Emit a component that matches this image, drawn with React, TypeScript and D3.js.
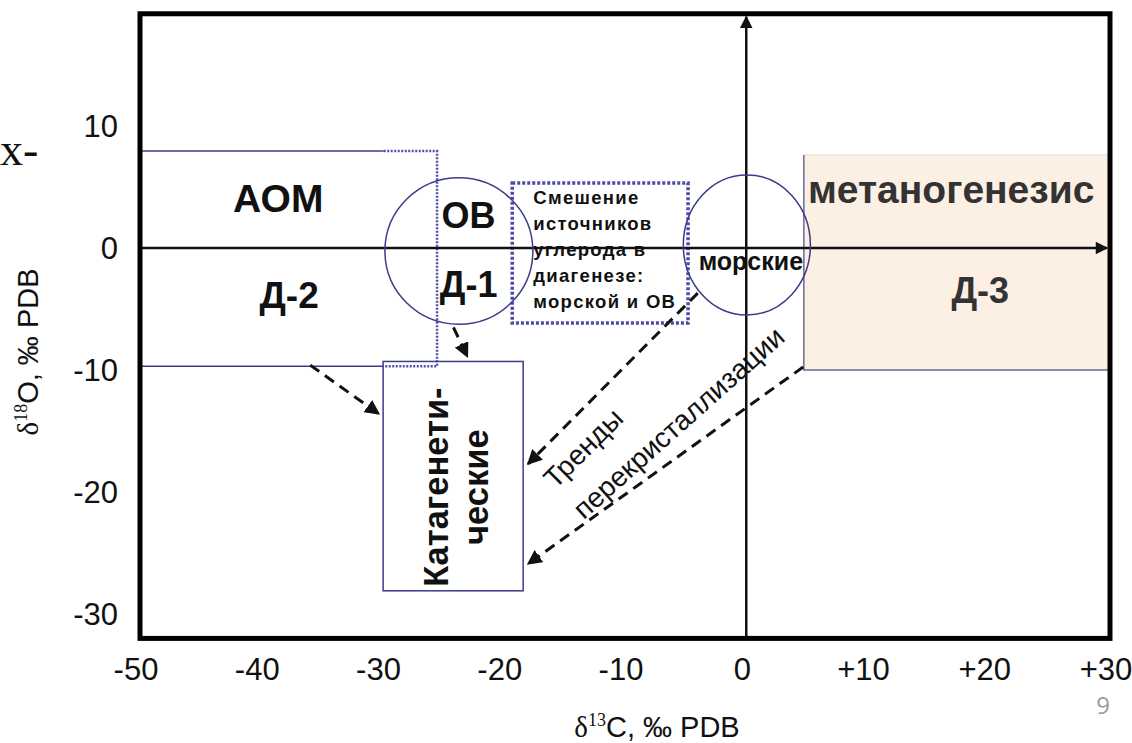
import * as d3 from 'd3';

// axis ticks
const xTicks = [-50, -40, -30, -20, -10, 0, 10, 20, 30];
const xTickLabels = ['-50', '-40', '-30', '-20', '-10', '0', '+10', '+20', '+30'];
const yTicks = [10, 0, -10, -20, -30];
const yTickLabels = ['10', '0', '-10', '-20', '-30'];

// plot frame, in data units
const frameX = [-50, 30];
const frameY = [-32, 19.2];

// АОМ / Д-2 field: solid edges, then dotted corner
const aomTop = 7.95;
const aomBottom = -9.7;
const aomSolidEnd = -29.9;
const aomRight = -25.5;

// ellipses: ОВ and морские
const fields = [
  { key: 'ov', cx: -23.7, cy: -0.25, rx: 6.1, ry: 6.0 },
  { key: 'sea', cx: 0.05, cy: 0.25, rx: 5.24, ry: 5.74 },
];

// boxes [x0, x1, yTop, yBottom]
const mixBox = [-19.3, -4.8, 5.33, -6.15];
const methBox = [4.75, 30, 7.62, -10.0];
const catBox = [-29.95, -18.4, -9.3, -28.1];

// dashed trend arrows [[x0, y0], [x1, y1]]
const arrows = [
  [[-35.96, -9.6], [-30.3, -13.6]],
  [[-24.15, -6.5], [-23.0, -8.9]],
  [[-4.0, -3.7], [-18.0, -17.7]],
  [[4.7, -9.75], [-18.0, -25.9]],
];

// bold labels: text, x, y (baseline), size
const labels = [
  { t: 'АОМ', x: -38.6, y: 2.95, s: 39, c: '#111' },
  { t: 'Д-2', x: -37.7, y: -4.95, s: 37, c: '#111' },
  { t: 'ОВ', x: -22.9, y: 1.65, s: 36, c: '#111' },
  { t: 'Д-1', x: -22.9, y: -4.0, s: 36, c: '#111' },
  { t: 'метаногенезис', x: 16.9, y: 3.7, s: 39, c: '#333' },
  { t: 'Д-3', x: 19.3, y: -4.5, s: 36, c: '#333' },
];

const mixLines = ['Смешение', 'источников', 'углерода в', 'диагенезе:', 'морской и ОВ'];
const catLines = ['Катагенети-', 'ческие'];

const W = 1132;
const H = 743;
const blue = '#3b3b8a';
const font = '"Liberation Sans", Arial, sans-serif';

export default function App() {
  const x = d3.scaleLinear().domain([-50, 30]).range([140, 1110]);
  const y = d3.scaleLinear().domain([-30, 10]).range([614, 126]);

  const fx0 = x(frameX[0]), fx1 = x(frameX[1]);
  const fy0 = y(frameY[1]), fy1 = y(frameY[0]);

  const aomPath = d3.path();
  aomPath.moveTo(x(aomSolidEnd), y(aomTop));
  aomPath.lineTo(x(aomRight), y(aomTop));
  aomPath.lineTo(x(aomRight), y(aomBottom));
  aomPath.lineTo(x(aomSolidEnd), y(aomBottom));

  const box = (b: number[]) => ({
    x: x(b[0]), y: y(b[2]), width: x(b[1]) - x(b[0]), height: y(b[3]) - y(b[2]),
  });
  const mb = box(mixBox);
  const meth = box(methBox);
  const cat = box(catBox);

  const line = d3.line<number[]>().x(d => x(d[0])).y(d => y(d[1]));

  return (
    <svg width={W} height={H} style={{ position: 'absolute', left: 0, top: 0, background: '#fff' }}
      fontFamily={font}>
      <defs>
        <marker id="ah" viewBox="0 0 10 10" refX="9" refY="5" markerWidth="5" markerHeight="5"
          orient="auto" markerUnits="strokeWidth">
          <path d="M0,0 L10,5 L0,10 z" fill="#111" />
        </marker>
        <marker id="axh" viewBox="0 0 10 10" refX="9" refY="5" markerWidth="6" markerHeight="5"
          orient="auto" markerUnits="strokeWidth">
          <path d="M0,0 L10,5 L0,10 z" fill="#111" />
        </marker>
      </defs>

      {/* metanogenesis field */}
      <rect x={meth.x} y={meth.y} width={fx1 - meth.x} height={meth.height} fill="#fcefe3" />
      <line x1={meth.x} y1={meth.y} x2={fx1} y2={meth.y} stroke="#f3e3d6" strokeWidth={1.5} />
      <polyline points={`${meth.x},${meth.y} ${meth.x},${meth.y + meth.height} ${fx1},${meth.y + meth.height}`}
        fill="none" stroke="#6a6a98" strokeWidth={1.5} />

      {/* АОМ field */}
      <line x1={fx0} y1={y(aomTop)} x2={x(aomSolidEnd)} y2={y(aomTop)} stroke={blue} strokeWidth={1.5} />
      <line x1={fx0} y1={y(aomBottom)} x2={x(aomSolidEnd)} y2={y(aomBottom)} stroke={blue} strokeWidth={1.5} />
      <path d={aomPath.toString()} fill="none" stroke="#5050a8" strokeWidth={2.5} strokeDasharray="2 1.5" />

      {/* catagenetic box */}
      <rect {...cat} fill="none" stroke={blue} strokeWidth={1.5} />

      {/* mixing box */}
      <rect {...mb} fill="none" stroke="#4c4ca6" strokeWidth={3.5} strokeDasharray="3 2" />

      {/* axes through zero */}
      <line x1={fx0} y1={y(0)} x2={fx1 - 3} y2={y(0)} stroke="#111" strokeWidth={2.5} markerEnd="url(#axh)" />
      <line x1={x(0)} y1={fy1} x2={x(0)} y2={fy0 + 3} stroke="#111" strokeWidth={2.5} markerEnd="url(#axh)" />

      {fields.map(f => (
        <ellipse key={f.key} cx={x(f.cx)} cy={y(f.cy)} rx={x(f.rx) - x(0)} ry={y(0) - y(f.ry)}
          fill="none" stroke={blue} strokeWidth={1.5} />
      ))}

      {/* arrows */}
      {arrows.map((a, i) => (
        <path key={i} d={line(a) as string} fill="none" stroke="#111" strokeWidth={3}
          strokeDasharray="11 7" markerEnd="url(#ah)" />
      ))}

      {/* frame */}
      <rect x={fx0} y={fy0} width={fx1 - fx0} height={fy1 - fy0} fill="none" stroke="#000" strokeWidth={5} />

      {/* labels */}
      {labels.map(l => (
        <text key={l.t} x={x(l.x)} y={y(l.y)} textAnchor="middle" fontWeight="bold" fontSize={l.s} fill={l.c}>{l.t}</text>
      ))}
      {mixLines.map((t, i) => (
        <text key={t} x={mb.x + 21} y={mb.y + 21 + i * 26} fontWeight="bold" fontSize={18.5}
          letterSpacing={1.3} fill="#111">{t}</text>
      ))}
      <text x={x(fields[1].cx) + 4} y={y(-1.8)} textAnchor="middle" fontWeight="bold" fontSize={25} fill="#111">морские</text>
      {catLines.map((t, i) => (
        <text key={t} transform={`translate(${cat.x + 65 + i * 40},${cat.y + cat.height / 2 + 11}) rotate(-90)`}
          textAnchor="middle" fontWeight="bold" fontSize={34.5} fill="#111">{t}</text>
      ))}
      <text transform="translate(590,455) rotate(-45)" textAnchor="middle" fontSize={28} fill="#111">Тренды</text>
      <text transform="translate(685,430) rotate(-41.7)" textAnchor="middle" fontSize={28} fill="#111">перекристаллизации</text>

      {/* ticks */}
      {xTicks.map((v, i) => (
        <text key={v} x={x(v) - 4} y={680} textAnchor="middle" fontSize={31} fill="#111">{xTickLabels[i]}</text>
      ))}
      {yTicks.map((v, i) => (
        <text key={v} x={118} y={y(v)} dy="0.36em" textAnchor="end" fontSize={31} fill="#111">{yTickLabels[i]}</text>
      ))}

      {/* axis titles */}
      <text x={657} y={737} textAnchor="middle" fontSize={29} fill="#111">
        <tspan fontFamily='"Liberation Serif", serif'>δ</tspan>
        <tspan fontFamily='"Liberation Serif", serif' fontSize={18} dy={-11}>13</tspan>
        <tspan dy={11}>C, ‰ PDB</tspan>
      </text>
      <text transform="translate(38,352) rotate(-90)" textAnchor="middle" fontSize={29} fill="#111">
        <tspan fontFamily='"Liberation Serif", serif'>δ</tspan>
        <tspan fontFamily='"Liberation Serif", serif' fontSize={18} dy={-11}>18</tspan>
        <tspan dy={11}>O, ‰ PDB</tspan>
      </text>

      {/* slide fragments */}
      <text x={0} y={165} fontFamily='"Liberation Serif", serif' fontSize={46} fill="#111">х-</text>
      <text x={1103} y={714} textAnchor="middle" fontFamily='"Open Sans", sans-serif' fontSize={24} fill="#9a9a9a">9</text>
    </svg>
  );
}
